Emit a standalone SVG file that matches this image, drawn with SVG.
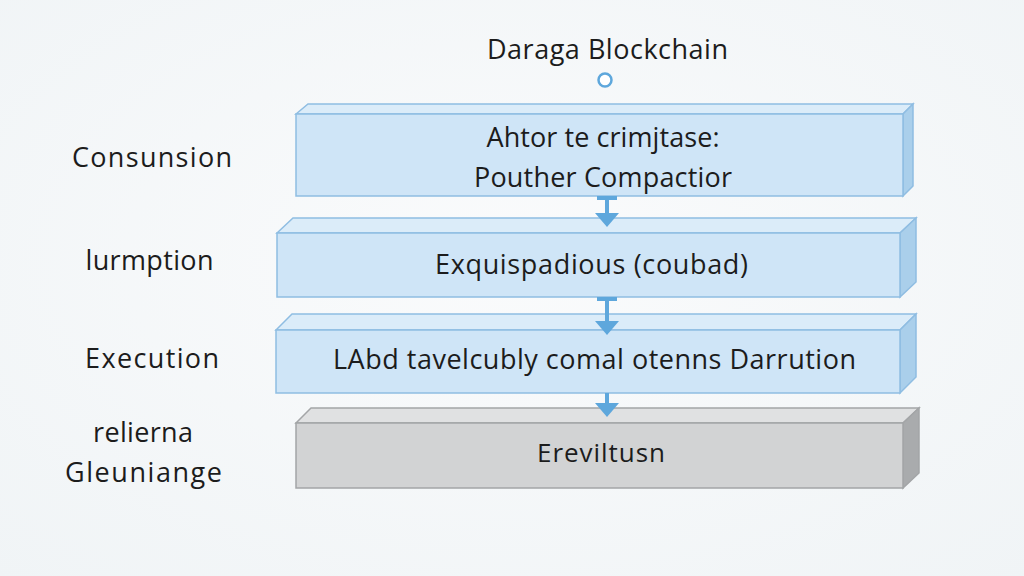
<svg xmlns="http://www.w3.org/2000/svg" width="1024" height="576" viewBox="0 0 1024 576">
<defs>
<style>
.t{font-family:"Open Sans","Noto Sans","DejaVu Sans",sans-serif;fill:#1c1c1c;text-anchor:middle}
.front{fill:#cfe5f7;stroke:#8fbde2;stroke-width:1.5}
.top{fill:#dbecf9;stroke:#8fbde2;stroke-width:1.5}
.side{fill:#aacfeb;stroke:#8fbde2;stroke-width:1.5}
.gfront{fill:#d2d3d4;stroke:#a3a5a7;stroke-width:1.5}
.gtop{fill:#e0e1e2;stroke:#a3a5a7;stroke-width:1.5}
.gside{fill:#a9abad;stroke:#a3a5a7;stroke-width:1.5}
.ln{stroke:#5ea7dc;stroke-width:4;fill:none}
.hd{fill:#5ea7dc}
</style>
<radialGradient id="bg" cx="50%" cy="45%" r="75%">
<stop offset="0" stop-color="#fafbfc"/>
<stop offset="1" stop-color="#f0f4f6"/>
</radialGradient>
</defs>
<rect width="1024" height="576" fill="url(#bg)"/>

<g id="title">
<text class="t" x="607.5" y="58.5" font-size="27" textLength="241">Daraga Blockchain</text>
<circle cx="605" cy="80" r="6.5" fill="#ffffff" stroke="#5ea7dc" stroke-width="2.5"/>
</g>

<g id="labels">
<text class="t" x="152" y="166.5" font-size="27" textLength="160">Consunsion</text>
<text class="t" x="149.5" y="270" font-size="27" textLength="128">lurmption</text>
<text class="t" x="152" y="368" font-size="27" textLength="134">Execution</text>
<text class="t" x="143" y="442" font-size="27" textLength="100">relierna</text>
<text class="t" x="143.5" y="482" font-size="27" textLength="157">Gleuniange</text>
</g>

<g id="box1">
<polygon class="top" points="296,114 308,104 913,104 903,114"/>
<polygon class="side" points="903,114 913,104 913,186 903,196"/>
<rect class="front" x="296" y="114" width="607" height="82"/>
<text class="t" x="603" y="147" font-size="27" textLength="233">Ahtor te crimjtase:</text>
<text class="t" x="603" y="187" font-size="27" textLength="258">Pouther Compactior</text>
</g>

<g id="box2">
<polygon class="top" points="277,233 293,218 916,218 900,233"/>
<polygon class="side" points="900,233 916,218 916,282 900,297"/>
<rect class="front" x="277" y="233" width="623" height="64"/>
<text class="t" x="591.5" y="273.5" font-size="27" textLength="313">Exquispadious (coubad)</text>
</g>

<g id="box3">
<polygon class="top" points="276,330 292,314 916,314 900,330"/>
<polygon class="side" points="900,330 916,314 916,377 900,393"/>
<rect class="front" x="276" y="330" width="624" height="63"/>
<text class="t" x="594.5" y="369" font-size="27" textLength="523">LAbd tavelcubly comal otenns Darrution</text>
</g>

<g id="box4">
<polygon class="gtop" points="296,423 311,408 919,408 903,423"/>
<polygon class="gside" points="903,423 919,408 919,473 903,488"/>
<rect class="gfront" x="296" y="423" width="607" height="65"/>
<text class="t" x="601" y="461.5" font-size="26" textLength="128">Ereviltusn</text>
</g>

<g id="connectors">
<line class="ln" x1="597" y1="198" x2="617" y2="198"/>
<line class="ln" x1="607" y1="198" x2="607" y2="214"/>
<polygon class="hd" points="595,213 619,213 607,227"/>
<line class="ln" x1="597" y1="299" x2="617" y2="299"/>
<line class="ln" x1="607" y1="299" x2="607" y2="322"/>
<polygon class="hd" points="595,321 619,321 607,335"/>
<line class="ln" x1="607" y1="393" x2="607" y2="404"/>
<polygon class="hd" points="595,403 619,403 607,417"/>
</g>
</svg>
